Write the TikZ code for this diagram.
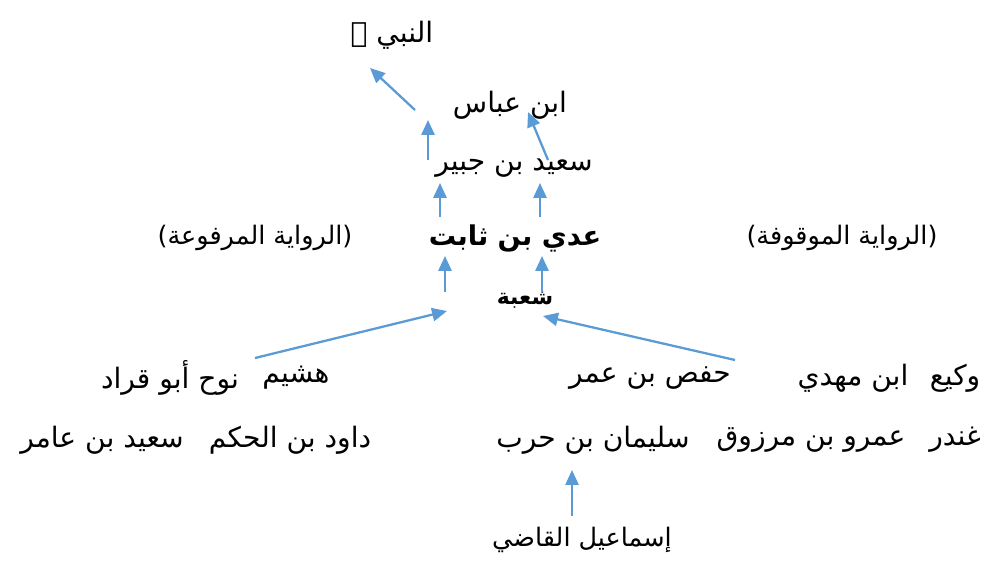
\documentclass[tikz,border=0pt]{standalone}
\usepackage{fontspec}
\usetikzlibrary{arrows.meta}
\TeXXeTstate=1
\newfontfamily\arabicfont[Script=Arabic]{DejaVu Sans}
\definecolor{linkblue}{HTML}{5B9BD5}
\newcommand{\artxt}[1]{{\arabicfont\beginR #1\endR}}

\begin{document}
\begin{tikzpicture}[x=0.02cm,y=-0.02cm,
  narrator/.style={font=\fontsize{16}{19}\selectfont, inner sep=0pt},
  label/.style={font=\fontsize{14.5}{17}\selectfont, inner sep=0pt},
  link/.style={draw=linkblue, line width=1.3pt, -{Triangle[length=8.5pt,width=7.5pt]}}]
\useasboundingbox (0,0) rectangle (990,561);
% chain
\node[narrator] (nabi) at (392,35) {\artxt{النبي ﷺ}};
\node[narrator] (abbas) at (510,105) {\artxt{ابن عباس}};
\node[narrator] (jubair) at (514,168) {\artxt{سعيد بن جبير}};
\node[narrator,font=\fontsize{15.5}{18}\selectfont\bfseries] (adi) at (515,238) {\artxt{عدي بن ثابت}};
\node[label] (marfu) at (255,238) {\artxt{(الرواية المرفوعة)}};
\node[label] (mawquf) at (842,238) {\artxt{(الرواية الموقوفة)}};
\node[narrator,font=\fontsize{12.5}{15}\selectfont\bfseries] (shuba) at (525,300) {\artxt{شعبة}};
% students
\node[narrator] (hushaim) at (296,378) {\artxt{هشيم}};
\node[narrator] (nuh) at (170,378) {\artxt{نوح أبو قراد}};
\node[narrator] (wakee) at (955,378) {\artxt{وكيع}};
\node[narrator] (mahdi) at (853,378) {\artxt{ابن مهدي}};
\node[narrator] (hafs) at (650,378) {\artxt{حفص بن عمر}};
\node[narrator] (ghundar) at (955,440) {\artxt{غندر}};
\node[narrator] (amr) at (811,440) {\artxt{عمرو بن مرزوق}};
\node[narrator] (sulaiman) at (593,440) {\artxt{سليمان بن حرب}};
\node[narrator] (dawud) at (290,440) {\artxt{داود بن الحكم}};
\node[narrator] (amir) at (102,440) {\artxt{سعيد بن عامر}};
\node[narrator,font=\fontsize{14.5}{17}\selectfont] (qadi) at (582,540) {\artxt{إسماعيل القاضي}};
% arrow ends
\coordinate (n1) at (415,110); \coordinate (n2) at (370,68);
\coordinate (j1) at (428,160); \coordinate (j2) at (428,120);
\coordinate (b1) at (548,160); \coordinate (b2) at (528,112);
\coordinate (a1) at (440,217); \coordinate (a2) at (440,183);
\coordinate (a3) at (540,217); \coordinate (a4) at (540,183);
\coordinate (s1) at (445,292); \coordinate (s2) at (445,256);
\coordinate (s3) at (542,292); \coordinate (s4) at (542,256);
\coordinate (h1) at (255,358); \coordinate (h2) at (447,311);
\coordinate (f1) at (735,360); \coordinate (f2) at (543,316);
\coordinate (q1) at (572,516); \coordinate (q2) at (572,470);
\draw[link] (n1) -- (n2);
\draw[link] (j1) -- (j2);
\draw[link] (b1) -- (b2);
\draw[link] (a1) -- (a2);
\draw[link] (a3) -- (a4);
\draw[link] (s1) -- (s2);
\draw[link] (s3) -- (s4);
\draw[link] (h1) -- (h2);
\draw[link] (f1) -- (f2);
\draw[link] (q1) -- (q2);
\end{tikzpicture}
\end{document}
